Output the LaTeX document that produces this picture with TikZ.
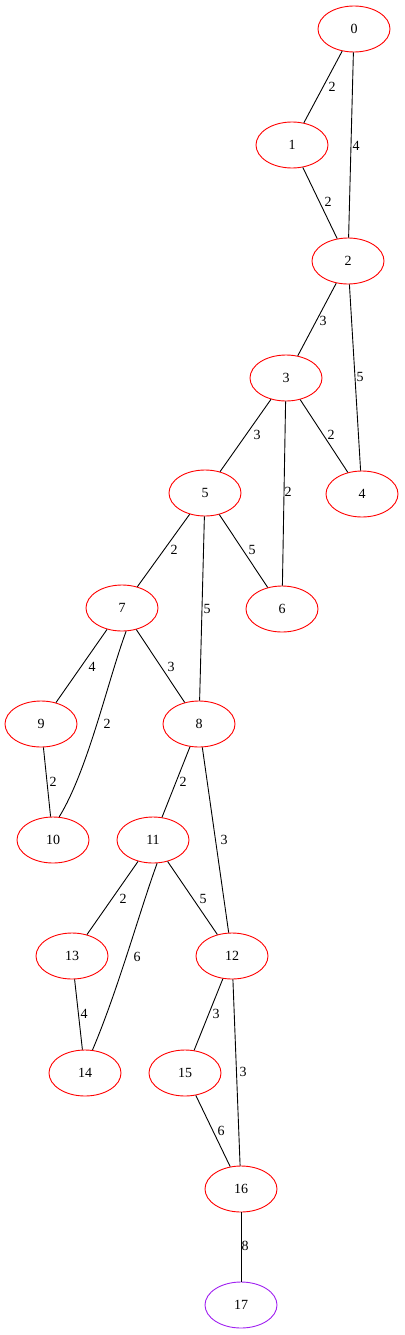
\documentclass[tikz,border=0pt]{standalone}
\usepackage{fontspec}
\setmainfont{Liberation Serif}
\usetikzlibrary{shapes.geometric}
\definecolor{gvpurple}{HTML}{A020F0}
\begin{document}
\begin{tikzpicture}[x=1pt,y=-1pt,
  vtx/.style={ellipse,draw=red,line width=0.9pt,minimum width=72pt,minimum height=46pt,inner sep=0pt,font=\fontsize{14}{14}\selectfont},
  lbl/.style={inner sep=0pt,font=\fontsize{14}{14}\selectfont},
  edge/.style={draw=black,line width=0.9pt}]
\useasboundingbox (0,0) rectangle (404,1335);
\node[vtx] (n0) at (354,29) {0};
\node[vtx] (n1) at (292,145) {1};
\node[vtx] (n2) at (348,261) {2};
\node[vtx] (n3) at (286,378) {3};
\node[vtx] (n4) at (362,494) {4};
\node[vtx] (n5) at (205,493) {5};
\node[vtx] (n6) at (282,609) {6};
\node[vtx] (n7) at (122,608) {7};
\node[vtx] (n8) at (199,724) {8};
\node[vtx] (n9) at (41,724) {9};
\node[vtx] (n10) at (53,840) {10};
\node[vtx] (n11) at (153,840) {11};
\node[vtx] (n12) at (232,956) {12};
\node[vtx] (n13) at (72,956) {13};
\node[vtx] (n14) at (85,1073) {14};
\node[vtx] (n15) at (185,1073) {15};
\node[vtx] (n16) at (241,1189) {16};
\node[vtx,draw=gvpurple] (n17) at (241,1305) {17};

\path[edge] (n0) -- (n1) node[lbl,at={(332,87)}] {2};
\path[edge] (n0) -- (n2) node[lbl,at={(356,146)}] {4};
\path[edge] (n1) -- (n2) node[lbl,at={(328,202)}] {2};
\path[edge] (n2) -- (n3) node[lbl,at={(323,321)}] {3};
\path[edge] (n2) -- (n4) node[lbl,at={(360,377)}] {5};
\path[edge] (n3) -- (n5) node[lbl,at={(257,435)}] {3};
\path[edge] (n3) -- (n4) node[lbl,at={(331,435)}] {2};
\path[edge] (n3) -- (n6) node[lbl,at={(288,492)}] {2};
\path[edge] (n5) -- (n7) node[lbl,at={(174,550)}] {2};
\path[edge] (n5) -- (n6) node[lbl,at={(252,550)}] {5};
\path[edge] (n5) -- (n8) node[lbl,at={(207,609)}] {5};
\path[edge] (n7) -- (n9) node[lbl,at={(92,667)}] {4};
\path[edge] (n7) -- (n8) node[lbl,at={(171,667)}] {3};
\path[edge] (n7.-80) .. controls (108,680) and (88,770) .. (n10.75) node[lbl,at={(107,724)}] {2};
\path[edge] (n9) -- (n10) node[lbl,at={(53,782)}] {2};
\path[edge] (n8) -- (n11) node[lbl,at={(183,782)}] {2};
\path[edge] (n8) -- (n12) node[lbl,at={(224,840)}] {3};
\path[edge] (n11) -- (n13) node[lbl,at={(123,899)}] {2};
\path[edge] (n11) -- (n12) node[lbl,at={(203,899)}] {5};
\path[edge] (n11.-80) .. controls (140,910) and (118,990) .. (n14.72) node[lbl,at={(137,957)}] {6};
\path[edge] (n13) -- (n14) node[lbl,at={(84,1014)}] {4};
\path[edge] (n12) -- (n15) node[lbl,at={(216,1014)}] {3};
\path[edge] (n12) -- (n16) node[lbl,at={(243,1072)}] {3};
\path[edge] (n15) -- (n16) node[lbl,at={(221,1131)}] {6};
\path[edge] (n16) -- (n17) node[lbl,at={(245,1246)}] {8};
\end{tikzpicture}
\end{document}
